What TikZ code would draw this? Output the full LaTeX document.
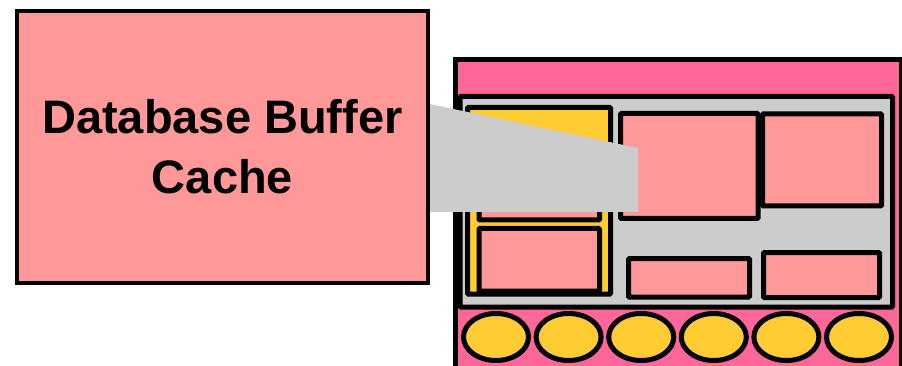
\documentclass[tikz,border=0pt]{standalone}
\usepackage{fontspec}
\setmainfont{Liberation Sans}
\usetikzlibrary{shapes.geometric}
\definecolor{salmon}{HTML}{FF9999}
\definecolor{hotpink}{HTML}{FF6699}
\definecolor{ochre}{HTML}{FFCC33}
\definecolor{panelgray}{HTML}{CCCCCC}
\tikzset{
  box/.style={draw=black, line width=5pt, rectangle, rounded corners=1pt, inner sep=0pt},
  pinkbox/.style={box, fill=salmon},
  bead/.style={draw=black, line width=5pt, ellipse, fill=ochre, inner sep=0pt, minimum width=65pt, minimum height=47pt},
  labelbox/.style={draw=black, line width=4pt, rectangle, fill=salmon, inner sep=0pt, align=center,
     font=\fontsize{47}{60}\selectfont\bfseries},
  callout/.style={fill=panelgray, draw=none}
}
\begin{document}
\begin{tikzpicture}[x=1pt, y=-1pt]
\clip (0,0) rectangle (902,366);
\fill[white] (0,0) rectangle (902,366);
% right diagram
\node[box, fill=hotpink, rounded corners=0pt, minimum width=445.5pt, minimum height=312.5pt] (frame) at (678.25,215.75) {};
\node[box, fill=panelgray, minimum width=432.5pt, minimum height=210.5pt] (panel) at (676.25,201.75) {};
\node[box, fill=ochre, minimum width=143pt, minimum height=186.5pt] (ybox) at (539,200.75) {};
\node[pinkbox, minimum width=120.5pt, minimum height=70pt] (y1) at (539.25,185) {};
\node[pinkbox, minimum width=120.5pt, minimum height=62.5pt] (y2) at (539.25,259.75) {};
\node[pinkbox, minimum width=137.5pt, minimum height=105pt] (p1) at (689.25,166) {};
\node[pinkbox, minimum width=119pt, minimum height=92pt] (p2) at (822,160) {};
\node[pinkbox, minimum width=121pt, minimum height=38.5pt] (p3) at (689,277.75) {};
\node[pinkbox, minimum width=116pt, minimum height=45pt] (p4) at (821.5,275) {};
\foreach \i/\cx in {1/496,2/568.6,3/641.2,4/713.8,5/786.4,6/859}
  \node[bead] (e\i) at (\cx,337) {};
% callout
\coordinate (c1) at (420,102);
\coordinate (c2) at (638,148);
\coordinate (c3) at (638,212);
\coordinate (c4) at (420,212);
\fill[callout] (c1) -- (c2) -- (c3) -- (c4) -- cycle;
% label
\node[labelbox, minimum width=411pt, minimum height=272pt] (label) at (222.5,147) {Database Buffer\\Cache};
\end{tikzpicture}
\end{document}
